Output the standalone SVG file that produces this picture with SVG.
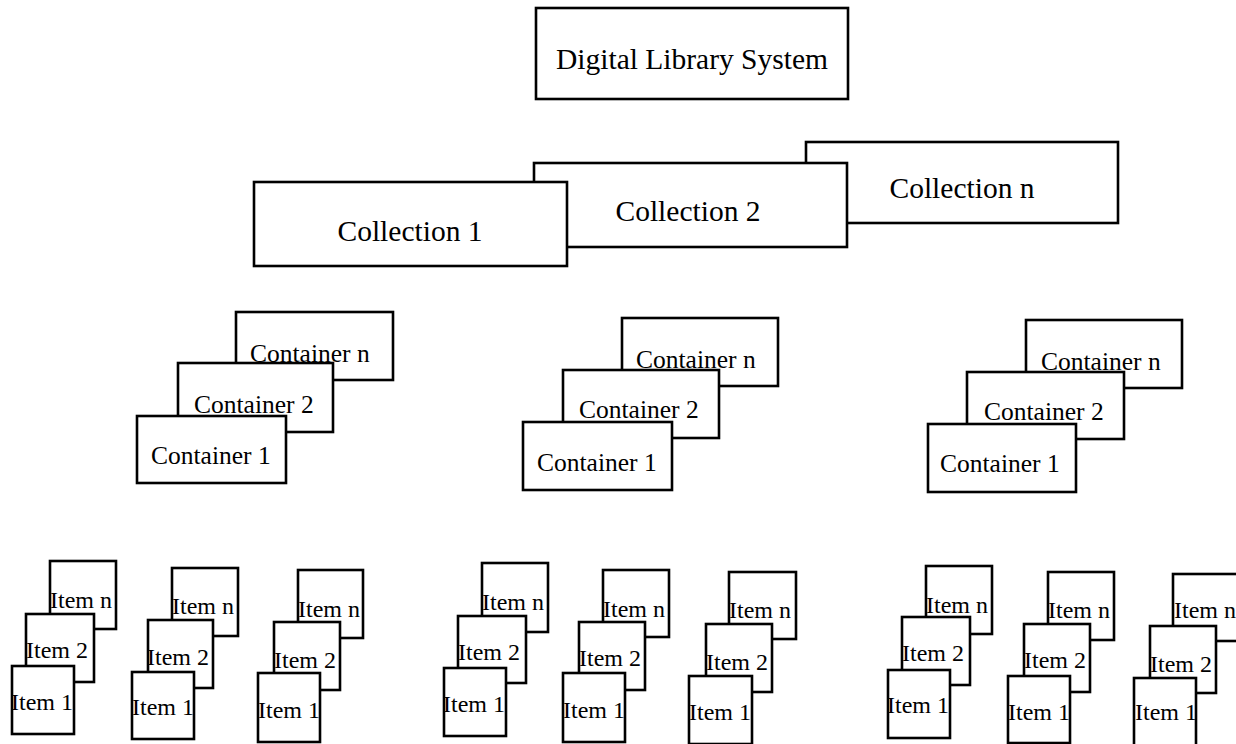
<svg xmlns="http://www.w3.org/2000/svg" width="1236" height="744" viewBox="0 0 1236 744">
<style>
rect{fill:#fff;stroke:#000;stroke-width:2.6}
text{font-family:"Liberation Serif","Times New Roman",serif;fill:#000}
.big{font-size:29.5px;text-anchor:middle}
.ct{font-size:25.5px}
.it{font-size:24px}
</style>
<rect x="0" y="0" width="1236" height="744" style="stroke:none"/>
<g id="connectors"/>
<g id="dls"><rect x="536" y="8" width="312" height="91"/><text class="big" x="692" y="69">Digital Library System</text></g>
<g id="collections">
<g id="col-n"><rect x="806" y="142" width="312" height="81"/><text class="big" x="962" y="198">Collection n</text></g>
<g id="col-2"><rect x="534" y="163" width="313" height="84"/><text class="big" x="688" y="221">Collection 2</text></g>
<g id="col-1"><rect x="254" y="182" width="313" height="84"/><text class="big" x="410" y="241">Collection 1</text></g>
</g>
<g id="containers-a">
<g id="ca-n"><rect x="236" y="312" width="157" height="68"/><text class="ct" x="250" y="362">Container n</text></g>
<g id="ca-2"><rect x="178" y="363" width="155" height="69"/><text class="ct" x="194" y="413">Container 2</text></g>
<g id="ca-1"><rect x="137" y="416" width="149" height="67"/><text class="ct" x="151" y="464">Container 1</text></g>
</g>
<g id="containers-b">
<g id="cb-n"><rect x="622" y="318" width="156" height="68"/><text class="ct" x="636" y="368">Container n</text></g>
<g id="cb-2"><rect x="563" y="370" width="156" height="68"/><text class="ct" x="579" y="418">Container 2</text></g>
<g id="cb-1"><rect x="523" y="422" width="149" height="68"/><text class="ct" x="537" y="471">Container 1</text></g>
</g>
<g id="containers-c">
<g id="cc-n"><rect x="1026" y="320" width="156" height="68"/><text class="ct" x="1041" y="370">Container n</text></g>
<g id="cc-2"><rect x="967" y="372" width="157" height="67"/><text class="ct" x="984" y="420">Container 2</text></g>
<g id="cc-1"><rect x="928" y="424" width="148" height="68"/><text class="ct" x="940" y="472">Container 1</text></g>
</g>
<g id="items-a">
<g id="ia-n"><rect x="50" y="561" width="66" height="68"/><text class="it" x="50" y="608">Item n</text></g>
<g id="ia-2"><rect x="26" y="614" width="68" height="68"/><text class="it" x="26" y="658">Item 2</text></g>
<g id="ia-1"><rect x="12" y="666" width="62" height="68"/><text class="it" x="11" y="710">Item 1</text></g>
</g>
<g id="items-b">
<g id="ib-n"><rect x="172" y="568" width="66" height="68"/><text class="it" x="172" y="614">Item n</text></g>
<g id="ib-2"><rect x="148" y="620" width="65" height="68"/><text class="it" x="147" y="665">Item 2</text></g>
<g id="ib-1"><rect x="132" y="672" width="62" height="67"/><text class="it" x="132" y="715">Item 1</text></g>
</g>
<g id="items-c">
<g id="ic-n"><rect x="298" y="570" width="65" height="68"/><text class="it" x="298" y="617">Item n</text></g>
<g id="ic-2"><rect x="274" y="622" width="66" height="68"/><text class="it" x="274" y="668">Item 2</text></g>
<g id="ic-1"><rect x="258" y="673" width="62" height="69"/><text class="it" x="258" y="718">Item 1</text></g>
</g>
<g id="items-d">
<g id="id-n"><rect x="482" y="563" width="66" height="69"/><text class="it" x="482" y="610">Item n</text></g>
<g id="id-2"><rect x="458" y="616" width="68" height="67"/><text class="it" x="458" y="660">Item 2</text></g>
<g id="id-1"><rect x="444" y="668" width="62" height="68"/><text class="it" x="443" y="712">Item 1</text></g>
</g>
<g id="items-e">
<g id="ie-n"><rect x="603" y="570" width="66" height="67"/><text class="it" x="603" y="617">Item n</text></g>
<g id="ie-2"><rect x="579" y="622" width="66" height="68"/><text class="it" x="579" y="666">Item 2</text></g>
<g id="ie-1"><rect x="563" y="673" width="62" height="69"/><text class="it" x="563" y="718">Item 1</text></g>
</g>
<g id="items-f">
<g id="if-n"><rect x="729" y="572" width="67" height="67"/><text class="it" x="729" y="618">Item n</text></g>
<g id="if-2"><rect x="706" y="624" width="66" height="68"/><text class="it" x="706" y="670">Item 2</text></g>
<g id="if-1"><rect x="689" y="676" width="63" height="68"/><text class="it" x="689" y="720">Item 1</text></g>
</g>
<g id="items-g">
<g id="ig-n"><rect x="926" y="566" width="66" height="68"/><text class="it" x="926" y="613">Item n</text></g>
<g id="ig-2"><rect x="902" y="617" width="68" height="68"/><text class="it" x="902" y="661">Item 2</text></g>
<g id="ig-1"><rect x="888" y="670" width="62" height="68"/><text class="it" x="887" y="713">Item 1</text></g>
</g>
<g id="items-h">
<g id="ih-n"><rect x="1048" y="572" width="66" height="68"/><text class="it" x="1048" y="618">Item n</text></g>
<g id="ih-2"><rect x="1024" y="624" width="66" height="68"/><text class="it" x="1024" y="668">Item 2</text></g>
<g id="ih-1"><rect x="1008" y="676" width="62" height="67"/><text class="it" x="1008" y="720">Item 1</text></g>
</g>
<g id="items-i">
<g id="ii-n"><rect x="1173" y="574" width="70" height="67"/><text class="it" x="1174" y="618">Item n</text></g>
<g id="ii-2"><rect x="1150" y="626" width="66" height="67"/><text class="it" x="1150" y="672">Item 2</text></g>
<g id="ii-1"><rect x="1134" y="678" width="62" height="70"/><text class="it" x="1135" y="720">Item 1</text></g>
</g>
</svg>
